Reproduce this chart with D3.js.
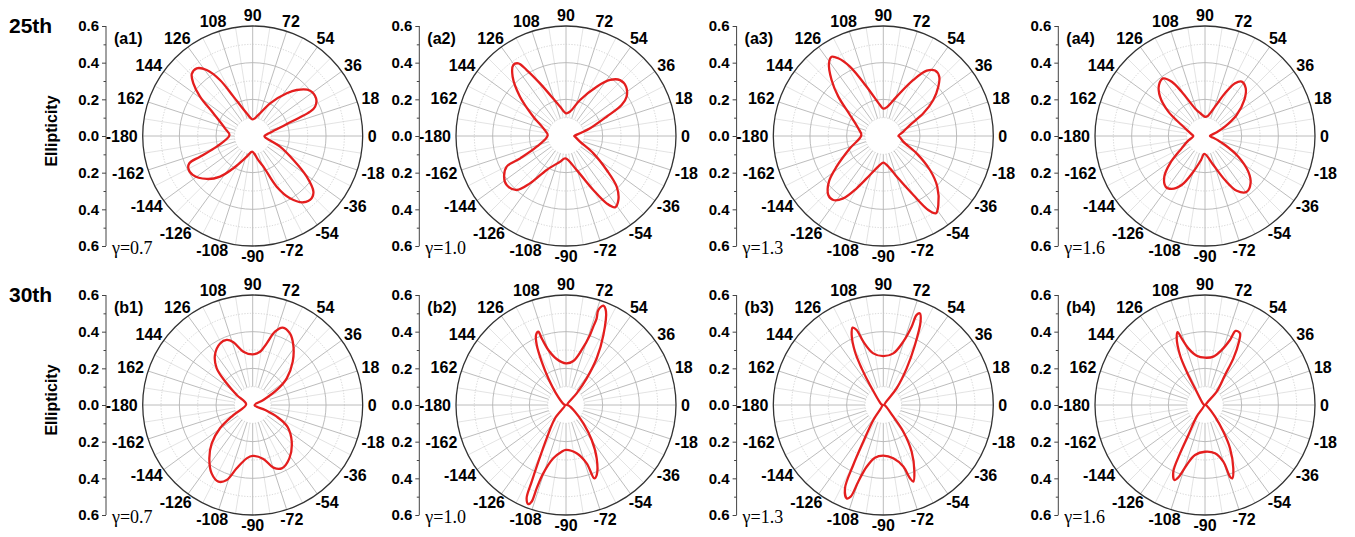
<!DOCTYPE html>
<html>
<head>
<meta charset="utf-8">
<script src="https://cdn.jsdelivr.net/npm/d3@7"></script>
<style>
  body { margin: 0; background: #fff; }
  svg { display: block; }
</style>
</head>
<body>
<svg id="chart" width="1355" height="537"></svg>
<script>
// ---- tick labels and captions ----
const angleTicks = [0, 18, 36, 54, 72, 90, 108, 126, 144, 162, -180, -162, -144, -126, -108, -90, -72, -54, -36, -18];
const radialTicks = [0, 0.2, 0.4, 0.6];
const radialMinorTicks = [0.1, 0.3, 0.5];
const harmonicLabels = ["25th", "30th"];
const gammaLabels = ["γ=0.7", "γ=1.0", "γ=1.3", "γ=1.6"];
const panelTags = [["(a1)", "(a2)", "(a3)", "(a4)"], ["(b1)", "(b2)", "(b3)", "(b4)"]];

// ---- ellipticity vs. angle (deg), one pair of arrays per panel ----
const a1Angle = [-163.5, -158.6, -156.7, -153.3, -147, -136.9, -128.8, -120.9, -106, -92, -77, -70.8, -64.7, -59.1, -52.6, -46.6, -42.5, -37, -30.5, -21.3, -6, 0, 9.5, 15, 19.4, 21.4, 23, 25.2, 30.7, 38.3, 46.3, 51.4, 62, 75, 90, 104.8, 116, 120.3, 124.9, 129.6, 134.5, 138.4, 143.2, 150, 164.5, 178];
const a1Value = [0.205, 0.309, 0.376, 0.393, 0.39, 0.343, 0.284, 0.205, 0.117, 0.086, 0.135, 0.177, 0.306, 0.396, 0.455, 0.468, 0.449, 0.369, 0.258, 0.16, 0.068, 0.064, 0.09, 0.13, 0.2, 0.27, 0.34, 0.376, 0.402, 0.399, 0.347, 0.298, 0.202, 0.119, 0.091, 0.128, 0.239, 0.354, 0.439, 0.479, 0.474, 0.433, 0.359, 0.248, 0.157, 0.127];

const a2Angle = [-160, -154, -152.7, -146.7, -140.4, -132.4, -127.3, -119.6, -103, -91.7, -72.6, -63.2, -58.9, -55.5, -50.7, -45, -39.9, -32.4, -22, -4, 0, 12, 17.7, 25.4, 29.1, 33, 39.4, 46, 51.8, 58.1, 68.7, 80.7, 90, 101.6, 116.3, 120.8, 123.3, 126.6, 132, 139.5, 149.4, 161.3, 178];
const a2Value = [0.17, 0.279, 0.364, 0.404, 0.42, 0.399, 0.325, 0.213, 0.144, 0.122, 0.195, 0.33, 0.429, 0.472, 0.451, 0.391, 0.289, 0.177, 0.082, 0.049, 0.045, 0.085, 0.138, 0.245, 0.347, 0.394, 0.424, 0.424, 0.389, 0.317, 0.211, 0.135, 0.124, 0.164, 0.32, 0.419, 0.474, 0.482, 0.435, 0.33, 0.207, 0.13, 0.1];

const a3Angle = [-159.7, -146.7, -140, -133, -128, -122.7, -117, -108.9, -96.6, -90, -78.4, -71.8, -63, -58.7, -55.7, -51.4, -43.2, -36.1, -27.5, -15.8, -2, 0, 12, 22.4, 29.5, 35.8, 41.9, 46.7, 51.7, 56.4, 61.8, 71.3, 83.4, 90, 96.1, 108.7, 115.7, 120.1, 123.1, 126.8, 132.7, 138.8, 147.8, 163, 178];
const a3Value = [0.194, 0.305, 0.387, 0.44, 0.443, 0.404, 0.32, 0.225, 0.159, 0.145, 0.18, 0.233, 0.361, 0.472, 0.51, 0.481, 0.404, 0.315, 0.205, 0.113, 0.087, 0.082, 0.11, 0.157, 0.251, 0.336, 0.403, 0.445, 0.455, 0.428, 0.347, 0.227, 0.157, 0.149, 0.17, 0.284, 0.42, 0.49, 0.516, 0.495, 0.416, 0.326, 0.215, 0.143, 0.12];

const a4Angle = [-163, -152.1, -142, -135, -127.8, -122.2, -115.5, -108.1, -99.5, -92, -74, -65.6, -59.9, -53.2, -46, -39.5, -31.8, -24.2, -19, -6, 0, 18, 25, 33.6, 42.5, 49.5, 56, 60.3, 64.9, 71.2, 82.4, 90, 101, 109.9, 117.8, 121.5, 125.9, 132, 138.8, 146.4, 154.8, 172.9, 180];
const a4Value = [0.1, 0.144, 0.242, 0.314, 0.35, 0.341, 0.296, 0.205, 0.133, 0.098, 0.165, 0.264, 0.345, 0.38, 0.358, 0.306, 0.214, 0.12, 0.077, 0.033, 0.027, 0.07, 0.12, 0.207, 0.291, 0.342, 0.358, 0.331, 0.257, 0.169, 0.11, 0.105, 0.125, 0.16, 0.273, 0.347, 0.388, 0.375, 0.326, 0.24, 0.141, 0.073, 0.064];

const b1Angle = [-152.6, -144.5, -136.9, -129.1, -121, -114.1, -109.1, -104.2, -96.4, -90, -78.8, -71.7, -65.4, -55.5, -43.2, -32, -25.9, -22, -5, 25, 32, 38.1, 47.3, 55.9, 62.5, 68.8, 73.1, 77.2, 82.2, 90, 99.9, 107.1, 111.8, 117.9, 127, 134.5, 140.2, 148, 174];
const b1Value = [0.119, 0.219, 0.306, 0.375, 0.435, 0.458, 0.433, 0.356, 0.293, 0.278, 0.3, 0.36, 0.38, 0.353, 0.292, 0.223, 0.146, 0.073, 0.01, 0.064, 0.155, 0.236, 0.322, 0.395, 0.44, 0.453, 0.418, 0.345, 0.293, 0.276, 0.295, 0.358, 0.382, 0.38, 0.342, 0.28, 0.185, 0.103, 0.036];

const b2Angle = [-129.5, -120.1, -116, -114.1, -112.9, -110.8, -109.6, -109.4, -108.4, -103.4, -95.3, -90, -77.6, -70.5, -68.9, -66.3, -60.1, -53.7, -46.6, -36.5, -9, 0, 47.6, 52.2, 56.7, 61.9, 66.8, 69.4, 71.2, 70.5, 70.8, 71.1, 74.1, 80.5, 90, 101.5, 107.8, 110, 110.7, 113.2, 116, 119.3, 123.5, 130.6, 159, 180];
const b2Value = [0.094, 0.21, 0.344, 0.458, 0.552, 0.578, 0.56, 0.482, 0.393, 0.299, 0.256, 0.245, 0.27, 0.338, 0.429, 0.417, 0.336, 0.237, 0.138, 0.061, 0.012, 0.005, 0.086, 0.184, 0.305, 0.433, 0.554, 0.579, 0.547, 0.5, 0.453, 0.404, 0.312, 0.243, 0.227, 0.256, 0.315, 0.387, 0.427, 0.415, 0.364, 0.271, 0.175, 0.084, 0.014, 0.005];

const b3Angle = [-123.7, -118.6, -116.6, -114.7, -111.4, -109.6, -108.1, -105.1, -99, -90, -79.4, -72, -70, -68.6, -65, -58.7, -53.1, -49.4, -20, 0, 51.3, 57.5, 62.2, 65.9, 68.2, 69.7, 70.1, 72.5, 79, 90, 101, 107.5, 109.6, 111.6, 114.3, 118, 120.6, 123.7, 160, 180];
const b3Value = [0.098, 0.228, 0.366, 0.5, 0.547, 0.531, 0.44, 0.349, 0.291, 0.276, 0.296, 0.353, 0.425, 0.449, 0.401, 0.298, 0.182, 0.084, 0.012, 0.005, 0.116, 0.237, 0.37, 0.498, 0.538, 0.524, 0.454, 0.362, 0.287, 0.267, 0.287, 0.362, 0.434, 0.454, 0.419, 0.329, 0.232, 0.131, 0.012, 0.005];

const b4Angle = [-125.5, -119, -117.3, -115.4, -112.2, -110, -107, -101.3, -90, -78.3, -72.1, -70.8, -69.6, -65.9, -60, -55.5, -49.4, -26.6, 0, 48.8, 56.3, 58.7, 61.8, 64, 67.5, 69, 73.1, 80.2, 90, 99.6, 106.4, 109.3, 110.6, 113, 116.6, 118.8, 121, 150, 180];
const b4Value = [0.078, 0.187, 0.297, 0.403, 0.442, 0.416, 0.342, 0.278, 0.255, 0.269, 0.325, 0.414, 0.427, 0.378, 0.273, 0.176, 0.084, 0.012, 0.004, 0.097, 0.197, 0.298, 0.392, 0.435, 0.437, 0.38, 0.314, 0.268, 0.258, 0.273, 0.322, 0.385, 0.424, 0.395, 0.305, 0.207, 0.106, 0.012, 0.004];

const seriesAngles = [[a1Angle, a2Angle, a3Angle, a4Angle], [b1Angle, b2Angle, b3Angle, b4Angle]];
const seriesValues = [[a1Value, a2Value, a3Value, a4Value], [b1Value, b2Value, b3Value, b4Value]];

// ---- layout ----
const centerX = [252.7, 566, 883.3, 1205];
const centerY = [136, 405];
const R = 110;
const rMax = 0.6;
const FONT = "'Liberation Sans', Arial, sans-serif";
const SERIF = "'Liberation Serif', 'Times New Roman', serif";

const svg = d3.select("#chart");
const rScale = d3.scaleLinear().domain([0, rMax]).range([0, R]);
const rad = d => d * Math.PI / 180;

const line = d3.lineRadial()
  .angle(d => rad(90 - d[0]))
  .radius(d => rScale(d[1]))
  .curve(d3.curveCatmullRomClosed.alpha(0.5));

for (let row = 0; row < 2; row++) {
  const cy = centerY[row];

  // row caption
  svg.append("text")
    .attr("x", 9).attr("y", cy - 103)
    .attr("font-family", FONT).attr("font-weight", "bold").attr("font-size", 21)
    .text(harmonicLabels[row]);

  svg.append("text")
    .attr("transform", `translate(57,${cy - 5}) rotate(-90)`)
    .attr("text-anchor", "middle")
    .attr("font-family", FONT).attr("font-weight", "bold").attr("font-size", 16)
    .text("Ellipticity");

  for (let col = 0; col < 4; col++) {
    const cx = centerX[col];
    const g = svg.append("g").attr("transform", `translate(${cx},${cy})`);
    const grid = g.append("g");

    // spokes: minor (between labels) and major (at labels)
    const minor = d3.range(9, 360, 18);
    grid.selectAll("line.minor").data(minor).join("line")
      .attr("x1", d => rScale(0.1) * Math.cos(rad(d)))
      .attr("y1", d => -rScale(0.1) * Math.sin(rad(d)))
      .attr("x2", d => R * Math.cos(rad(d)))
      .attr("y2", d => -R * Math.sin(rad(d)))
      .attr("stroke", "#dcdcdc").attr("stroke-width", 0.8);
    grid.selectAll("line.major").data(angleTicks).join("line")
      .attr("x1", d => rScale(0.1) * Math.cos(rad(d)))
      .attr("y1", d => -rScale(0.1) * Math.sin(rad(d)))
      .attr("x2", d => R * Math.cos(rad(d)))
      .attr("y2", d => -R * Math.sin(rad(d)))
      .attr("stroke", "#b4b4b4").attr("stroke-width", 0.9);

    // circles
    grid.selectAll("circle.minor").data(radialMinorTicks).join("circle")
      .attr("r", d => rScale(d)).attr("fill", "none")
      .attr("stroke", "#c8c8c8").attr("stroke-width", 0.8).attr("stroke-dasharray", "1.2,1.6");
    grid.selectAll("circle.major").data([0.2, 0.4]).join("circle")
      .attr("r", d => rScale(d)).attr("fill", "none")
      .attr("stroke", "#b4b4b4").attr("stroke-width", 0.9);
    grid.append("circle").attr("r", R).attr("fill", "none")
      .attr("stroke", "#333").attr("stroke-width", 1.3);

    // angle labels
    const lab = g.append("g")
      .attr("font-family", FONT).attr("font-weight", "bold").attr("font-size", 16)
      .attr("text-anchor", "middle").attr("dominant-baseline", "central");
    lab.selectAll("text").data(angleTicks).join("text")
      .text(d => d)
      .each(function (d) {
        const w = this.getComputedTextLength();
        const h = 11.5;
        const t = rad(d);
        const c = Math.cos(t), s = Math.sin(t);
        d3.select(this)
          .attr("x", (R + 5) * c + (w / 2) * c)
          .attr("y", -(R + 5) * s - (h / 2) * s);
      });

    // radial axis on the left, reading 0.6 → 0 → 0.6
    const ax = -R - 36.7;
    const axG = g.append("g").attr("transform", `translate(${ax},0)`);
    const yUp = d3.scaleLinear().domain([0, rMax]).range([0, -R]);
    const yDown = d3.scaleLinear().domain([0, rMax]).range([0, R]);
    const styleAxis = sel => {
      sel.select(".domain").remove();
      sel.selectAll("line").attr("stroke", "#444");
      sel.selectAll("text").attr("font-family", FONT).attr("font-weight", "bold")
        .attr("font-size", 15).attr("fill", "#000");
    };
    axG.append("g").call(d3.axisLeft(yUp).tickValues(radialTicks).tickSize(4).tickPadding(3).tickFormat(d3.format(".1f"))).call(styleAxis);
    axG.append("g").call(d3.axisLeft(yDown).tickValues(radialTicks.slice(1)).tickSize(4).tickPadding(3).tickFormat(d3.format(".1f"))).call(styleAxis);
    axG.append("g").call(d3.axisLeft(yUp).tickValues(radialMinorTicks).tickSize(2.5).tickFormat("")).call(styleAxis);
    axG.append("g").call(d3.axisLeft(yDown).tickValues(radialMinorTicks).tickSize(2.5).tickFormat("")).call(styleAxis);
    axG.append("line").attr("y1", -R).attr("y2", R).attr("stroke", "#444").attr("stroke-width", 1);

    // curve
    const pts = seriesAngles[row][col].map((a, i) => [a, seriesValues[row][col][i]]);
    g.append("path").datum(pts)
      .attr("d", line)
      .attr("fill", "none").attr("stroke", "#e41e1e").attr("stroke-width", 2.3)
      .attr("stroke-linejoin", "round");

    // panel tag and gamma
    g.append("text").attr("x", ax + 8).attr("y", -R + 18)
      .attr("font-family", FONT).attr("font-weight", "bold").attr("font-size", 16)
      .text(panelTags[row][col]);
    g.append("text").attr("x", ax + 6).attr("y", R + 8)
      .attr("font-family", SERIF).attr("font-size", 18)
      .text(gammaLabels[col]);
  }
}
</script>
</body>
</html>
